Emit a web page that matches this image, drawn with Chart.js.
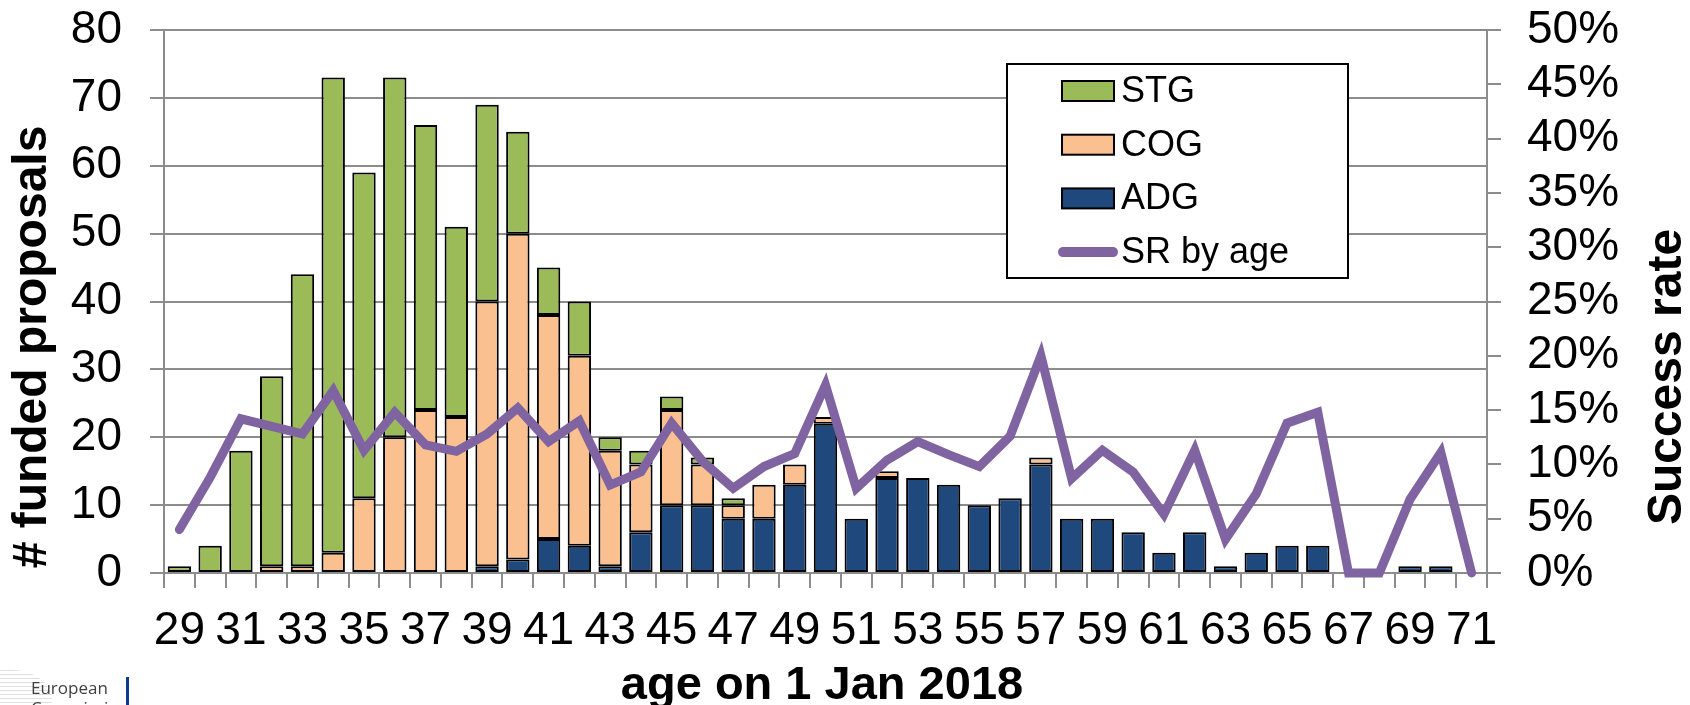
<!DOCTYPE html>
<html>
<head>
<meta charset="utf-8">
<script src="https://cdn.jsdelivr.net/npm/chart.js@4.4.1/dist/chart.umd.min.js"></script>
<style>
  html, body { margin: 0; padding: 0; background: #fff; overflow: hidden; }
  #wrap { position: relative; width: 1690px; height: 705px; }
  #c { position: absolute; left: 0; top: 0; }
  .ec-stripes { position: absolute; left: 0; top: 670px; width: 52px; height: 35px;
    background: repeating-linear-gradient(180deg, #d6d6d6 0 1px, #fff 1px 4px);
    border-top-right-radius: 40px 30px; opacity: 0.8; }
  .ec-bar { position: absolute; left: 126px; top: 677px; width: 3px; height: 28px; background: #0c3c8c; }
  .ec-text { position: absolute; left: 31px; top: 678px; font-family: "Open Sans", "Noto Sans", sans-serif;
    font-size: 17px; line-height: 20px; color: #404040; }
</style>
</head>
<body>
<div id="wrap">
  <canvas id="c" width="1690" height="705"></canvas>
  <div class="ec-stripes"></div>
  <div class="ec-text">European<br>Commission</div>
  <div class="ec-bar"></div>
</div>
<script>
// age on 1 Jan 2018
var ages = [29, 30, 31, 32, 33, 34, 35, 36, 37, 38, 39, 40, 41, 42, 43, 44, 45, 46, 47, 48, 49, 50,
            51, 52, 53, 54, 55, 56, 57, 58, 59, 60, 61, 62, 63, 64, 65, 66, 67, 68, 69, 70, 71];

// funded proposals per grant type
var adg = [0, 0, 0, 0, 0, 0, 0, 0, 0, 0, 1, 2, 5, 4, 1, 6, 10, 10, 8, 8, 13, 22,
           8, 14, 14, 13, 10, 11, 16, 8, 8, 6, 3, 6, 1, 3, 4, 4, 0, 0, 1, 1, 0];
var cog = [0, 0, 0, 1, 1, 3, 11, 20, 24, 23, 39, 48, 33, 28, 17, 10, 14, 6, 2, 5, 3, 1,
           0, 1, 0, 0, 0, 0, 1, 0, 0, 0, 0, 0, 0, 0, 0, 0, 0, 0, 0, 0, 0];
var stg = [1, 4, 18, 28, 43, 70, 48, 53, 42, 28, 29, 15, 7, 8, 2, 2, 2, 1, 1, 0, 0, 0,
           0, 0, 0, 0, 0, 0, 0, 0, 0, 0, 0, 0, 0, 0, 0, 0, 0, 0, 0, 0, 0];

// success rate by age, in %
var srByAge = [4.0, 8.8, 14.2, 13.5, 12.8, 16.8, 11.3, 14.8, 11.8, 11.2, 12.8, 15.2, 12.1, 14.0,
               8.1, 9.3, 13.8, 10.3, 7.8, 9.8, 11.0, 17.3, 7.8, 10.4, 12.1, 10.9, 9.8, 12.6,
               20.0, 8.7, 11.3, 9.3, 5.4, 11.3, 3.1, 7.3, 13.8, 14.8, 0, 0, 6.8, 11.1, 0];

var FONT = "'Liberation Sans', Arial, sans-serif";
var GRID = '#8c8c8c';

Chart.defaults.font.family = FONT;
Chart.defaults.color = '#000';

// legend box drawn inside the plot, like the original
var boxLegend = {
    id: 'boxLegend',
    afterDraw: function(chart) {
        var ctx = chart.ctx;
        var ds = chart.data.datasets;
        var order = [2, 1, 0, 3]; // STG, COG, ADG, SR
        ctx.save();
        ctx.fillStyle = '#fff';
        ctx.fillRect(1007, 64, 341, 214);
        ctx.lineWidth = 2;
        ctx.strokeStyle = '#000';
        ctx.strokeRect(1007, 64, 341, 214);
        ctx.font = '36px ' + FONT;
        ctx.textBaseline = 'middle';
        ctx.textAlign = 'left';
        for (var i = 0; i < order.length; i++) {
            var d = ds[order[i]];
            var cy = 91 + i * 53.7;
            if (d.type === 'line') {
                ctx.strokeStyle = d.borderColor;
                ctx.lineWidth = 10;
                ctx.lineCap = 'round';
                ctx.beginPath();
                ctx.moveTo(1063, cy);
                ctx.lineTo(1113, cy);
                ctx.stroke();
            } else {
                ctx.fillStyle = d.backgroundColor;
                ctx.fillRect(1062, cy - 10, 52, 20);
                ctx.strokeStyle = '#000';
                ctx.lineWidth = 2;
                ctx.strokeRect(1062, cy - 10, 52, 20);
            }
            ctx.fillStyle = '#000';
            ctx.fillText(d.label, 1121, cy + 1);
        }
        ctx.restore();
    }
};

// axis titles (the right one reads bottom to top)
var axisTitles = {
    id: 'axisTitles',
    afterDraw: function(chart) {
        var ctx = chart.ctx;
        ctx.save();
        ctx.fillStyle = '#000';
        ctx.textAlign = 'center';
        ctx.font = 'bold 48px ' + FONT;
        ctx.textBaseline = 'middle';
        ctx.save();
        ctx.translate(33, 347);
        ctx.rotate(-Math.PI / 2);
        ctx.fillText('# funded proposals', 0, 0);
        ctx.restore();
        ctx.save();
        ctx.translate(1668, 377);
        ctx.rotate(-Math.PI / 2);
        ctx.fillText('Success rate', 0, 0);
        ctx.restore();
        ctx.font = 'bold 47px ' + FONT;
        ctx.textBaseline = 'alphabetic';
        ctx.fillText('age on 1 Jan 2018', 822, 699);
        ctx.restore();
    }
};

var ctx = document.getElementById('c').getContext('2d');
var chart = new Chart(ctx, {
    type: 'bar',
    data: {
        labels: ages,
        datasets: [
            { label: 'ADG', data: adg, backgroundColor: '#1F497D', borderColor: '#000', borderWidth: 2,
              borderSkipped: false, yAxisID: 'y', order: 1 },
            { label: 'COG', data: cog, backgroundColor: '#FAC090', borderColor: '#000', borderWidth: 2,
              borderSkipped: false, yAxisID: 'y', order: 1 },
            { label: 'STG', data: stg, backgroundColor: '#9BBB59', borderColor: '#000', borderWidth: 2,
              borderSkipped: false, yAxisID: 'y', order: 1 },
            { type: 'line', label: 'SR by age', data: srByAge, borderColor: '#8064A2',
              backgroundColor: '#8064A2', borderWidth: 9, pointRadius: 0, tension: 0,
              borderCapStyle: 'round', clip: false, yAxisID: 'y1', order: 0 }
        ]
    },
    options: {
        responsive: false,
        animation: false,
        devicePixelRatio: 1,
        layout: { padding: { top: 30, left: 0, right: 0, bottom: 0 } },
        datasets: { bar: { categoryPercentage: 1, barPercentage: 0.76 } },
        plugins: { legend: { display: false }, tooltip: { enabled: false } },
        scales: {
            x: {
                stacked: true,
                afterFit: function(s) { s.height = 132; },
                grid: { display: true, drawOnChartArea: false, drawTicks: true, tickLength: 15,
                        color: GRID, lineWidth: 2, offset: true },
                border: { color: GRID, width: 2 },
                ticks: {
                    autoSkip: false, maxRotation: 0, minRotation: 0, padding: 16,
                    font: { size: 46 },
                    callback: function(v, i) { return ages[i] % 2 === 1 ? String(ages[i]) : ''; }
                }
            },
            y: {
                stacked: true,
                position: 'left',
                min: 0, max: 80,
                afterFit: function(s) { s.width = 164; s.paddingTop = 0; s.paddingBottom = 0; },
                grid: { color: GRID, lineWidth: 2, tickLength: 14 },
                border: { color: GRID, width: 2 },
                ticks: { stepSize: 10, autoSkip: false, padding: 28, font: { size: 46 } }
            },
            y1: {
                position: 'right',
                min: 0, max: 50,
                afterFit: function(s) { s.width = 203; s.paddingTop = 0; s.paddingBottom = 0; },
                grid: { drawOnChartArea: false, color: GRID, lineWidth: 2, tickLength: 14 },
                border: { color: GRID, width: 2 },
                ticks: { stepSize: 5, autoSkip: false, padding: 26, font: { size: 46 },
                         callback: function(v) { return v + '%'; } }
            }
        }
    },
    plugins: [boxLegend, axisTitles]
});
</script>
</body>
</html>
